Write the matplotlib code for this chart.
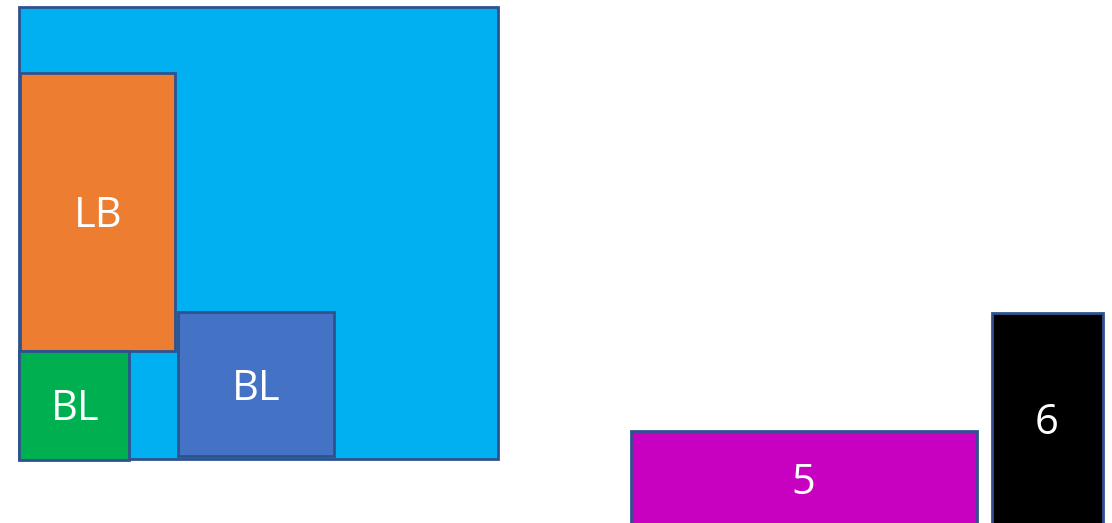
import matplotlib
matplotlib.use("Agg")
import matplotlib.pyplot as plt
from matplotlib.patches import Rectangle

# Rectangles: (left, top, right, bottom) in canvas units (pixels of a 1112x523 canvas)
labels = ["", "LB", "BL", "BL", "5", "6"]
lefts = [19, 20, 19, 178, 631, 992]
tops = [7, 73, 351, 312, 431, 313]
rights = [498, 175, 129, 334, 977, 1103]
bottoms = [459, 351, 460, 456, 530, 530]
fills = ["#00B0F0", "#ED7D31", "#00B050", "#4472C4", "#C800C0", "#000000"]
label_x = [0, 98, 75, 256, 803, 1047]
label_y = [0, 216, 409, 389, 483, 423]

W, H = 1112, 523
fig = plt.figure(figsize=(W / 100, H / 100), dpi=100)
ax = fig.add_axes([0, 0, 1, 1])
ax.set_xlim(0, W)
ax.set_ylim(H, 0)
ax.axis("off")

for i in range(len(labels)):
    ax.add_patch(Rectangle((lefts[i], tops[i]), rights[i] - lefts[i], bottoms[i] - tops[i],
                           facecolor=fills[i], edgecolor="#2F528F", linewidth=2.0, zorder=i + 1))
    if labels[i]:
        ax.text(label_x[i], label_y[i], labels[i], color="white", fontsize=30,
                family=["Open Sans", "DejaVu Sans"], ha="center", va="center", zorder=20)

fig.savefig("out.png", dpi=100)
